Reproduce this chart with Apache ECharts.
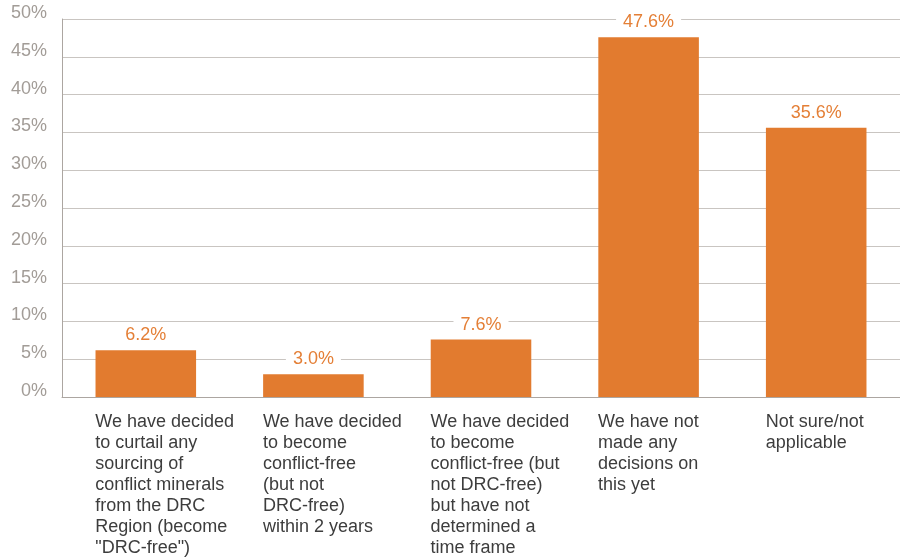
<!DOCTYPE html>
<html>
<head>
<meta charset="utf-8">
<script src="https://cdn.jsdelivr.net/npm/echarts@6/dist/echarts.min.js"></script>
<style>
  html, body { margin: 0; padding: 0; background: #fff; }
  #chart { width: 900px; height: 559px; }
</style>
</head>
<body>
<div id="chart"></div>
<script>
// Survey responses on conflict-minerals sourcing decisions
const categories = [
  'We have decided\nto curtail any\nsourcing of\nconflict minerals\nfrom the DRC\nRegion (become\n"DRC-free")',
  'We have decided\nto become\nconflict-free\n(but not\nDRC-free)\nwithin 2 years',
  'We have decided\nto become\nconflict-free (but\nnot DRC-free)\nbut have not\ndetermined a\ntime frame',
  'We have not\nmade any\ndecisions on\nthis yet',
  'Not sure/not\napplicable'
];
const shares = [6.2, 3.0, 7.6, 47.6, 35.6];
const yTicks = { min: 0, max: 50, step: 5 };

const font = "'Liberation Sans', Arial, Helvetica, sans-serif";
const chart = echarts.init(document.getElementById('chart'), null, { renderer: 'canvas' });

chart.setOption({
  animation: false,
  grid: { left: 62, right: 0, top: 19, bottom: 162, containLabel: false },
  xAxis: {
    type: 'category',
    data: categories,
    axisLine: { show: true, lineStyle: { color: '#aca6a1', width: 1 } },
    axisTick: { show: false },
    axisLabel: {
      interval: 0,
      margin: 15,
      align: 'center',
      verticalAlign: 'top',
      width: 101,
      overflow: 'none',
      formatter: v => v.split('\n').map(s => '{t|' + s + '}').join('\n'),
      rich: {
        t: {
          align: 'left',
          fontFamily: font,
          fontSize: 18,
          lineHeight: 21,
          color: '#3d3d3d'
        }
      }
    }
  },
  yAxis: {
    type: 'value',
    min: yTicks.min,
    max: yTicks.max,
    interval: yTicks.step,
    axisLine: { show: true, lineStyle: { color: '#aca6a1', width: 1 } },
    axisTick: { show: false },
    splitLine: { show: true, lineStyle: { color: '#c9c5c1', width: 1 } },
    axisLabel: {
      margin: 15,
      fontFamily: font,
      fontSize: 18,
      lineHeight: 12,
      color: '#a29c97',
      verticalAlign: 'bottom',
      formatter: v => v + '%'
    }
  },
  series: [{
    type: 'bar',
    data: shares,
    barWidth: '60%',
    itemStyle: { color: '#e27b2f' },
    label: {
      show: true,
      position: 'top',
      distance: 5,
      fontFamily: font,
      fontSize: 18,
      color: '#e47f36',
      backgroundColor: '#ffffff',
      padding: [1, 7],
      formatter: p => p.value.toFixed(1) + '%'
    }
  }]
});
</script>
</body>
</html>
